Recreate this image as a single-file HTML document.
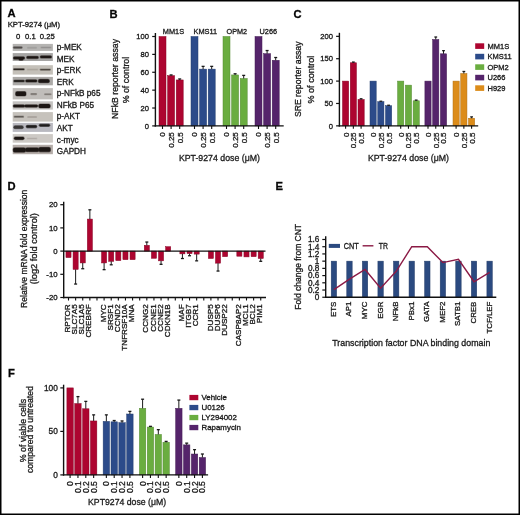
<!DOCTYPE html>
<html><head><meta charset="utf-8"><style>
html,body{margin:0;padding:0;background:#fff;}
body{width:520px;height:515px;overflow:hidden;position:relative;}
svg{position:absolute;left:0;top:0;display:block;will-change:transform;}
text{font-family:"Liberation Sans", sans-serif;stroke:#1a1a1a;stroke-width:0.32px;}
</style></head><body>
<svg width="520" height="515" viewBox="0 0 520 515">
<rect x="0" y="0" width="520" height="515" fill="#fff"/>
<text x="7.60" y="17.20" font-size="11.2" text-anchor="start" fill="#000" font-weight="bold" stroke="none" >A</text>
<text x="109.40" y="17.60" font-size="11.2" text-anchor="start" fill="#000" font-weight="bold" stroke="none" >B</text>
<text x="293.60" y="17.80" font-size="11.2" text-anchor="start" fill="#000" font-weight="bold" stroke="none" >C</text>
<text x="7.60" y="189.60" font-size="11.2" text-anchor="start" fill="#000" font-weight="bold" stroke="none" >D</text>
<text x="275.60" y="189.60" font-size="11.2" text-anchor="start" fill="#000" font-weight="bold" stroke="none" >E</text>
<text x="7.90" y="377.20" font-size="11.2" text-anchor="start" fill="#000" font-weight="bold" stroke="none" >F</text>
<text x="7.70" y="27.00" font-size="8.0" text-anchor="start" fill="#1a1a1a" textLength="52.4" lengthAdjust="spacingAndGlyphs" >KPT-9274 (μM)</text>
<text x="18.20" y="38.60" font-size="7.7" text-anchor="middle" fill="#1a1a1a" >0</text>
<text x="30.40" y="38.60" font-size="7.7" text-anchor="middle" fill="#1a1a1a" >0.1</text>
<text x="47.30" y="38.60" font-size="7.7" text-anchor="middle" fill="#1a1a1a" >0.25</text>
<rect x="12.70" y="43.90" width="40.20" height="7.00" fill="#b5b4b2" />
<rect x="12.80" y="46.25" width="10.00" height="2.70" rx="1.35" fill="#4e4a48" opacity="0.45"/>
<rect x="13.4" y="46.85" width="8.80" height="1.5" rx="0.75" fill="#4e4a48"/>
<rect x="26.90" y="46.85" width="10.20" height="1.90" rx="0.95" fill="#9a9896" opacity="0.45"/>
<rect x="27.5" y="47.45" width="9.00" height="0.7" rx="0.35" fill="#9a9896"/>
<rect x="40.40" y="46.60" width="11.20" height="2.00" rx="1.00" fill="#8e8c8a" opacity="0.45"/>
<rect x="41" y="47.20" width="10.00" height="0.8" rx="0.40" fill="#8e8c8a"/>
<text x="56.80" y="50.30" font-size="8.2" text-anchor="start" fill="#1a1a1a" >p-MEK</text>
<rect x="12.70" y="53.10" width="40.20" height="7.90" fill="#a6a5a4" />
<rect x="12.80" y="56.15" width="12.40" height="3.70" rx="1.85" fill="#1c1614" opacity="0.45"/>
<rect x="13.4" y="56.75" width="11.20" height="2.5" rx="1.25" fill="#1c1614"/>
<rect x="18.40" y="58.10" width="5.20" height="2.80" rx="1.40" fill="#1c1614" opacity="0.45"/>
<rect x="19" y="58.70" width="4.00" height="1.6" rx="0.80" fill="#1c1614"/>
<rect x="26.00" y="55.65" width="13.00" height="3.50" rx="1.75" fill="#1c1614" opacity="0.45"/>
<rect x="26.6" y="56.25" width="11.80" height="2.3" rx="1.15" fill="#1c1614"/>
<rect x="39.60" y="55.15" width="12.60" height="3.50" rx="1.75" fill="#1c1614" opacity="0.45"/>
<rect x="40.2" y="55.75" width="11.40" height="2.3" rx="1.15" fill="#1c1614"/>
<text x="56.80" y="61.60" font-size="8.2" text-anchor="start" fill="#1a1a1a" >MEK</text>
<rect x="12.70" y="65.20" width="40.20" height="9.40" fill="#c4c0b9" />
<rect x="13.00" y="68.05" width="11.80" height="2.50" rx="1.25" fill="#2a2420" opacity="0.45"/>
<rect x="13.6" y="68.65" width="10.60" height="1.3" rx="0.65" fill="#2a2420"/>
<rect x="26.60" y="68.55" width="11.80" height="2.10" rx="1.05" fill="#a8a29a" opacity="0.45"/>
<rect x="27.2" y="69.15" width="10.60" height="0.9" rx="0.45" fill="#a8a29a"/>
<rect x="39.60" y="68.40" width="11.40" height="2.40" rx="1.20" fill="#4e4842" opacity="0.45"/>
<rect x="40.2" y="69.00" width="10.20" height="1.2" rx="0.60" fill="#4e4842"/>
<text x="56.80" y="72.90" font-size="8.2" text-anchor="start" fill="#1a1a1a" >p-ERK</text>
<rect x="12.70" y="76.90" width="40.20" height="8.40" fill="#acaaa8" />
<rect x="13.20" y="79.45" width="11.80" height="3.10" rx="1.55" fill="#2a2624" opacity="0.45"/>
<rect x="13.8" y="80.05" width="10.60" height="1.9" rx="0.95" fill="#2a2624"/>
<rect x="25.00" y="79.15" width="12.60" height="3.50" rx="1.75" fill="#1c1614" opacity="0.45"/>
<rect x="25.6" y="79.75" width="11.40" height="2.3" rx="1.15" fill="#1c1614"/>
<rect x="37.80" y="78.75" width="12.20" height="4.50" rx="2.00" fill="#1c1614" opacity="0.45"/>
<rect x="38.4" y="79.35" width="11.00" height="3.3" rx="1.50" fill="#1c1614"/>
<text x="56.80" y="84.90" font-size="8.2" text-anchor="start" fill="#1a1a1a" >ERK</text>
<rect x="12.70" y="88.10" width="40.20" height="11.30" fill="#c0bdba" />
<rect x="15.00" y="91.00" width="11.60" height="5.60" rx="2.00" fill="#1c1614" opacity="0.45"/>
<rect x="15.6" y="91.60" width="10.40" height="4.4" rx="1.50" fill="#1c1614"/>
<rect x="30.20" y="93.00" width="7.00" height="2.20" rx="1.10" fill="#6e6864" opacity="0.45"/>
<rect x="30.8" y="93.60" width="5.80" height="1.0" rx="0.50" fill="#6e6864"/>
<rect x="43.90" y="93.25" width="7.90" height="2.10" rx="1.05" fill="#7a7470" opacity="0.45"/>
<rect x="44.5" y="93.85" width="6.70" height="0.9" rx="0.45" fill="#7a7470"/>
<text x="56.80" y="95.90" font-size="8.2" text-anchor="start" fill="#1a1a1a" >p-NFkB p65</text>
<rect x="12.70" y="101.30" width="40.20" height="8.30" fill="#c4c2c0" />
<rect x="12.60" y="104.15" width="12.60" height="3.70" rx="1.85" fill="#1c1614" opacity="0.45"/>
<rect x="13.2" y="104.75" width="11.40" height="2.5" rx="1.25" fill="#1c1614"/>
<rect x="24.00" y="104.25" width="14.40" height="3.50" rx="1.75" fill="#1c1614" opacity="0.45"/>
<rect x="24.6" y="104.85" width="13.20" height="2.3" rx="1.15" fill="#1c1614"/>
<rect x="38.10" y="103.45" width="12.70" height="5.10" rx="2.00" fill="#1c1614" opacity="0.45"/>
<rect x="38.7" y="104.05" width="11.50" height="3.9" rx="1.50" fill="#1c1614"/>
<text x="56.80" y="107.90" font-size="8.2" text-anchor="start" fill="#1a1a1a" >NFkB P65</text>
<rect x="12.70" y="112.10" width="40.20" height="9.50" fill="#c6c2bc" />
<rect x="13.60" y="115.45" width="10.60" height="2.50" rx="1.25" fill="#625d58" opacity="0.45"/>
<rect x="14.2" y="116.05" width="9.40" height="1.3" rx="0.65" fill="#625d58"/>
<rect x="27.00" y="115.90" width="10.20" height="2.20" rx="1.10" fill="#a29c96" opacity="0.45"/>
<rect x="27.6" y="116.50" width="9.00" height="1.0" rx="0.50" fill="#a29c96"/>
<text x="56.80" y="119.30" font-size="8.2" text-anchor="start" fill="#1a1a1a" >p-AKT</text>
<rect x="12.70" y="122.90" width="40.20" height="9.00" fill="#b9b9c0" />
<rect x="13.10" y="125.05" width="10.80" height="4.30" rx="2.00" fill="#383636" opacity="0.45"/>
<rect x="13.7" y="125.65" width="9.60" height="3.1" rx="1.50" fill="#383636"/>
<rect x="25.60" y="124.75" width="11.80" height="3.70" rx="1.85" fill="#1e1c1c" opacity="0.45"/>
<rect x="26.2" y="125.35" width="10.60" height="2.5" rx="1.25" fill="#1e1c1c"/>
<rect x="38.60" y="123.55" width="11.80" height="3.50" rx="1.75" fill="#1e1c1c" opacity="0.45"/>
<rect x="39.2" y="124.15" width="10.60" height="2.3" rx="1.15" fill="#1e1c1c"/>
<text x="56.80" y="131.00" font-size="8.2" text-anchor="start" fill="#1a1a1a" >AKT</text>
<rect x="12.70" y="134.10" width="40.20" height="8.60" fill="#cdc9c5" />
<rect x="13.60" y="136.35" width="11.10" height="3.90" rx="1.95" fill="#1c1614" opacity="0.45"/>
<rect x="14.2" y="136.95" width="9.90" height="2.7" rx="1.35" fill="#1c1614"/>
<rect x="26.60" y="137.60" width="10.80" height="2.00" rx="1.00" fill="#aea8a4" opacity="0.45"/>
<rect x="27.2" y="138.20" width="9.60" height="0.8" rx="0.40" fill="#aea8a4"/>
<text x="56.80" y="142.70" font-size="8.2" text-anchor="start" fill="#1a1a1a" >c-myc</text>
<rect x="12.70" y="144.80" width="40.20" height="9.40" fill="#b4aca8" />
<rect x="12.60" y="147.25" width="13.50" height="5.50" rx="2.00" fill="#1c1614" opacity="0.45"/>
<rect x="13.2" y="147.85" width="12.30" height="4.3" rx="1.50" fill="#1c1614"/>
<rect x="24.90" y="147.25" width="14.50" height="5.10" rx="2.00" fill="#1c1614" opacity="0.45"/>
<rect x="25.5" y="147.85" width="13.30" height="3.9" rx="1.50" fill="#1c1614"/>
<rect x="38.20" y="146.75" width="12.80" height="5.70" rx="2.00" fill="#1c1614" opacity="0.45"/>
<rect x="38.8" y="147.35" width="11.60" height="4.5" rx="1.50" fill="#1c1614"/>
<text x="56.80" y="154.00" font-size="8.2" text-anchor="start" fill="#1a1a1a" >GAPDH</text>
<rect x="159.00" y="36.50" width="7.00" height="89.40" fill="#ad0530" stroke="#8a0426" stroke-width="0.5"/>
<line x1="162.50" y1="125.90" x2="162.50" y2="129.00" stroke="#111" stroke-width="1.1"/>
<text transform="translate(165.40,132.20) rotate(-90)" font-size="8.0" text-anchor="end" fill="#1a1a1a" >0</text>
<rect x="167.60" y="75.66" width="7.00" height="50.24" fill="#ad0530" stroke="#8a0426" stroke-width="0.5"/>
<line x1="171.10" y1="75.66" x2="171.10" y2="74.94" stroke="#1a1a1a" stroke-width="1.0"/>
<line x1="169.60" y1="74.94" x2="172.60" y2="74.94" stroke="#1a1a1a" stroke-width="1.3"/>
<line x1="171.10" y1="125.90" x2="171.10" y2="129.00" stroke="#111" stroke-width="1.1"/>
<text transform="translate(174.00,132.20) rotate(-90)" font-size="8.0" text-anchor="end" fill="#1a1a1a" >0.25</text>
<rect x="176.20" y="79.95" width="7.00" height="45.95" fill="#ad0530" stroke="#8a0426" stroke-width="0.5"/>
<line x1="179.70" y1="79.95" x2="179.70" y2="78.97" stroke="#1a1a1a" stroke-width="1.0"/>
<line x1="178.20" y1="78.97" x2="181.20" y2="78.97" stroke="#1a1a1a" stroke-width="1.3"/>
<line x1="179.70" y1="125.90" x2="179.70" y2="129.00" stroke="#111" stroke-width="1.1"/>
<text transform="translate(182.60,132.20) rotate(-90)" font-size="8.0" text-anchor="end" fill="#1a1a1a" >0.5</text>
<rect x="191.00" y="36.50" width="7.00" height="89.40" fill="#2c4b8a" stroke="#233c6e" stroke-width="0.5"/>
<line x1="194.50" y1="125.90" x2="194.50" y2="129.00" stroke="#111" stroke-width="1.1"/>
<text transform="translate(197.40,132.20) rotate(-90)" font-size="8.0" text-anchor="end" fill="#1a1a1a" >0</text>
<rect x="199.60" y="69.13" width="7.00" height="56.77" fill="#2c4b8a" stroke="#233c6e" stroke-width="0.5"/>
<line x1="203.10" y1="69.13" x2="203.10" y2="66.36" stroke="#1a1a1a" stroke-width="1.0"/>
<line x1="201.60" y1="66.36" x2="204.60" y2="66.36" stroke="#1a1a1a" stroke-width="1.3"/>
<line x1="203.10" y1="125.90" x2="203.10" y2="129.00" stroke="#111" stroke-width="1.1"/>
<text transform="translate(206.00,132.20) rotate(-90)" font-size="8.0" text-anchor="end" fill="#1a1a1a" >0.25</text>
<rect x="208.20" y="69.13" width="7.00" height="56.77" fill="#2c4b8a" stroke="#233c6e" stroke-width="0.5"/>
<line x1="211.70" y1="69.13" x2="211.70" y2="66.36" stroke="#1a1a1a" stroke-width="1.0"/>
<line x1="210.20" y1="66.36" x2="213.20" y2="66.36" stroke="#1a1a1a" stroke-width="1.3"/>
<line x1="211.70" y1="125.90" x2="211.70" y2="129.00" stroke="#111" stroke-width="1.1"/>
<text transform="translate(214.60,132.20) rotate(-90)" font-size="8.0" text-anchor="end" fill="#1a1a1a" >0.5</text>
<rect x="223.00" y="36.50" width="7.00" height="89.40" fill="#6aad40" stroke="#548a33" stroke-width="0.5"/>
<line x1="226.50" y1="125.90" x2="226.50" y2="129.00" stroke="#111" stroke-width="1.1"/>
<text transform="translate(229.40,132.20) rotate(-90)" font-size="8.0" text-anchor="end" fill="#1a1a1a" >0</text>
<rect x="231.60" y="74.94" width="7.00" height="50.96" fill="#6aad40" stroke="#548a33" stroke-width="0.5"/>
<line x1="235.10" y1="74.94" x2="235.10" y2="73.78" stroke="#1a1a1a" stroke-width="1.0"/>
<line x1="233.60" y1="73.78" x2="236.60" y2="73.78" stroke="#1a1a1a" stroke-width="1.3"/>
<line x1="235.10" y1="125.90" x2="235.10" y2="129.00" stroke="#111" stroke-width="1.1"/>
<text transform="translate(238.00,132.20) rotate(-90)" font-size="8.0" text-anchor="end" fill="#1a1a1a" >0.25</text>
<rect x="240.20" y="78.52" width="7.00" height="47.38" fill="#6aad40" stroke="#548a33" stroke-width="0.5"/>
<line x1="243.70" y1="78.52" x2="243.70" y2="75.39" stroke="#1a1a1a" stroke-width="1.0"/>
<line x1="242.20" y1="75.39" x2="245.20" y2="75.39" stroke="#1a1a1a" stroke-width="1.3"/>
<line x1="243.70" y1="125.90" x2="243.70" y2="129.00" stroke="#111" stroke-width="1.1"/>
<text transform="translate(246.60,132.20) rotate(-90)" font-size="8.0" text-anchor="end" fill="#1a1a1a" >0.5</text>
<rect x="255.00" y="36.50" width="7.00" height="89.40" fill="#55246b" stroke="#441c55" stroke-width="0.5"/>
<line x1="258.50" y1="125.90" x2="258.50" y2="129.00" stroke="#111" stroke-width="1.1"/>
<text transform="translate(261.40,132.20) rotate(-90)" font-size="8.0" text-anchor="end" fill="#1a1a1a" >0</text>
<rect x="263.60" y="53.66" width="7.00" height="72.24" fill="#55246b" stroke="#441c55" stroke-width="0.5"/>
<line x1="267.10" y1="53.66" x2="267.10" y2="50.54" stroke="#1a1a1a" stroke-width="1.0"/>
<line x1="265.60" y1="50.54" x2="268.60" y2="50.54" stroke="#1a1a1a" stroke-width="1.3"/>
<line x1="267.10" y1="125.90" x2="267.10" y2="129.00" stroke="#111" stroke-width="1.1"/>
<text transform="translate(270.00,132.20) rotate(-90)" font-size="8.0" text-anchor="end" fill="#1a1a1a" >0.25</text>
<rect x="272.20" y="60.28" width="7.00" height="65.62" fill="#55246b" stroke="#441c55" stroke-width="0.5"/>
<line x1="275.70" y1="60.28" x2="275.70" y2="57.51" stroke="#1a1a1a" stroke-width="1.0"/>
<line x1="274.20" y1="57.51" x2="277.20" y2="57.51" stroke="#1a1a1a" stroke-width="1.3"/>
<line x1="275.70" y1="125.90" x2="275.70" y2="129.00" stroke="#111" stroke-width="1.1"/>
<text transform="translate(278.60,132.20) rotate(-90)" font-size="8.0" text-anchor="end" fill="#1a1a1a" >0.5</text>
<line x1="155.40" y1="33.00" x2="155.40" y2="126.60" stroke="#111" stroke-width="1.4"/>
<line x1="152.20" y1="125.90" x2="155.40" y2="125.90" stroke="#111" stroke-width="1.2"/>
<text x="149.00" y="128.60" font-size="7.6" text-anchor="end" fill="#1a1a1a" >0</text>
<line x1="152.20" y1="108.02" x2="155.40" y2="108.02" stroke="#111" stroke-width="1.2"/>
<text x="149.00" y="110.72" font-size="7.6" text-anchor="end" fill="#1a1a1a" >20</text>
<line x1="152.20" y1="90.14" x2="155.40" y2="90.14" stroke="#111" stroke-width="1.2"/>
<text x="149.00" y="92.84" font-size="7.6" text-anchor="end" fill="#1a1a1a" >40</text>
<line x1="152.20" y1="72.26" x2="155.40" y2="72.26" stroke="#111" stroke-width="1.2"/>
<text x="149.00" y="74.96" font-size="7.6" text-anchor="end" fill="#1a1a1a" >60</text>
<line x1="152.20" y1="54.38" x2="155.40" y2="54.38" stroke="#111" stroke-width="1.2"/>
<text x="149.00" y="57.08" font-size="7.6" text-anchor="end" fill="#1a1a1a" >80</text>
<line x1="152.20" y1="36.50" x2="155.40" y2="36.50" stroke="#111" stroke-width="1.2"/>
<text x="149.00" y="39.20" font-size="7.6" text-anchor="end" fill="#1a1a1a" >100</text>
<line x1="154.70" y1="125.90" x2="283.70" y2="125.90" stroke="#111" stroke-width="1.4"/>
<text x="162.80" y="33.80" font-size="8.1" text-anchor="start" fill="#1a1a1a" textLength="21.29999999999999" lengthAdjust="spacingAndGlyphs" >MM1S</text>
<text x="193.50" y="33.80" font-size="8.1" text-anchor="start" fill="#1a1a1a" textLength="23.699999999999996" lengthAdjust="spacingAndGlyphs" >KMS11</text>
<text x="226.50" y="33.80" font-size="8.1" text-anchor="start" fill="#1a1a1a" textLength="20.6" lengthAdjust="spacingAndGlyphs" >OPM2</text>
<text x="259.50" y="33.80" font-size="8.1" text-anchor="start" fill="#1a1a1a" textLength="17.6" lengthAdjust="spacingAndGlyphs" >U266</text>
<text x="178.90" y="160.60" font-size="9.8" text-anchor="start" fill="#1a1a1a" textLength="81.0" lengthAdjust="spacingAndGlyphs" >KPT-9274 dose (μM)</text>
<text transform="translate(117.80,119.00) rotate(-90)" font-size="9.8" text-anchor="start" fill="#1a1a1a" textLength="80.0" lengthAdjust="spacingAndGlyphs" >NFkB reporter assay</text>
<text transform="translate(129.40,103.30) rotate(-90)" font-size="9.8" text-anchor="start" fill="#1a1a1a" textLength="46.5" lengthAdjust="spacingAndGlyphs" >% of control</text>
<rect x="342.50" y="81.10" width="6.20" height="44.75" fill="#ad0530" stroke="#8a0426" stroke-width="0.5"/>
<line x1="345.60" y1="125.85" x2="345.60" y2="128.85" stroke="#111" stroke-width="1.1"/>
<text transform="translate(348.50,132.60) rotate(-90)" font-size="8.0" text-anchor="end" fill="#1a1a1a" >0</text>
<rect x="350.25" y="62.75" width="6.20" height="63.10" fill="#ad0530" stroke="#8a0426" stroke-width="0.5"/>
<line x1="353.35" y1="62.75" x2="353.35" y2="62.08" stroke="#1a1a1a" stroke-width="1.0"/>
<line x1="351.95" y1="62.08" x2="354.75" y2="62.08" stroke="#1a1a1a" stroke-width="1.3"/>
<line x1="353.35" y1="125.85" x2="353.35" y2="128.85" stroke="#111" stroke-width="1.1"/>
<text transform="translate(356.25,132.60) rotate(-90)" font-size="8.0" text-anchor="end" fill="#1a1a1a" >0.25</text>
<rect x="358.00" y="99.45" width="6.20" height="26.40" fill="#ad0530" stroke="#8a0426" stroke-width="0.5"/>
<line x1="361.10" y1="99.45" x2="361.10" y2="98.78" stroke="#1a1a1a" stroke-width="1.0"/>
<line x1="359.70" y1="98.78" x2="362.50" y2="98.78" stroke="#1a1a1a" stroke-width="1.3"/>
<line x1="361.10" y1="125.85" x2="361.10" y2="128.85" stroke="#111" stroke-width="1.1"/>
<text transform="translate(364.00,132.60) rotate(-90)" font-size="8.0" text-anchor="end" fill="#1a1a1a" >0.5</text>
<rect x="370.00" y="81.10" width="6.20" height="44.75" fill="#2c4b8a" stroke="#233c6e" stroke-width="0.5"/>
<line x1="373.10" y1="125.85" x2="373.10" y2="128.85" stroke="#111" stroke-width="1.1"/>
<text transform="translate(376.00,132.60) rotate(-90)" font-size="8.0" text-anchor="end" fill="#1a1a1a" >0</text>
<rect x="377.75" y="101.69" width="6.20" height="24.16" fill="#2c4b8a" stroke="#233c6e" stroke-width="0.5"/>
<line x1="380.85" y1="101.69" x2="380.85" y2="101.24" stroke="#1a1a1a" stroke-width="1.0"/>
<line x1="379.45" y1="101.24" x2="382.25" y2="101.24" stroke="#1a1a1a" stroke-width="1.3"/>
<line x1="380.85" y1="125.85" x2="380.85" y2="128.85" stroke="#111" stroke-width="1.1"/>
<text transform="translate(383.75,132.60) rotate(-90)" font-size="8.0" text-anchor="end" fill="#1a1a1a" >0.25</text>
<rect x="385.50" y="105.71" width="6.20" height="20.14" fill="#2c4b8a" stroke="#233c6e" stroke-width="0.5"/>
<line x1="388.60" y1="105.71" x2="388.60" y2="105.26" stroke="#1a1a1a" stroke-width="1.0"/>
<line x1="387.20" y1="105.26" x2="390.00" y2="105.26" stroke="#1a1a1a" stroke-width="1.3"/>
<line x1="388.60" y1="125.85" x2="388.60" y2="128.85" stroke="#111" stroke-width="1.1"/>
<text transform="translate(391.50,132.60) rotate(-90)" font-size="8.0" text-anchor="end" fill="#1a1a1a" >0.5</text>
<rect x="397.60" y="81.10" width="6.20" height="44.75" fill="#6aad40" stroke="#548a33" stroke-width="0.5"/>
<line x1="400.70" y1="125.85" x2="400.70" y2="128.85" stroke="#111" stroke-width="1.1"/>
<text transform="translate(403.60,132.60) rotate(-90)" font-size="8.0" text-anchor="end" fill="#1a1a1a" >0</text>
<rect x="405.35" y="85.13" width="6.20" height="40.72" fill="#6aad40" stroke="#548a33" stroke-width="0.5"/>
<line x1="408.45" y1="125.85" x2="408.45" y2="128.85" stroke="#111" stroke-width="1.1"/>
<text transform="translate(411.35,132.60) rotate(-90)" font-size="8.0" text-anchor="end" fill="#1a1a1a" >0.25</text>
<rect x="413.10" y="100.79" width="6.20" height="25.06" fill="#6aad40" stroke="#548a33" stroke-width="0.5"/>
<line x1="416.20" y1="100.79" x2="416.20" y2="100.12" stroke="#1a1a1a" stroke-width="1.0"/>
<line x1="414.80" y1="100.12" x2="417.60" y2="100.12" stroke="#1a1a1a" stroke-width="1.3"/>
<line x1="416.20" y1="125.85" x2="416.20" y2="128.85" stroke="#111" stroke-width="1.1"/>
<text transform="translate(419.10,132.60) rotate(-90)" font-size="8.0" text-anchor="end" fill="#1a1a1a" >0.5</text>
<rect x="424.90" y="81.10" width="6.20" height="44.75" fill="#55246b" stroke="#441c55" stroke-width="0.5"/>
<line x1="428.00" y1="125.85" x2="428.00" y2="128.85" stroke="#111" stroke-width="1.1"/>
<text transform="translate(430.90,132.60) rotate(-90)" font-size="8.0" text-anchor="end" fill="#1a1a1a" >0</text>
<rect x="432.65" y="39.48" width="6.20" height="86.37" fill="#55246b" stroke="#441c55" stroke-width="0.5"/>
<line x1="435.75" y1="39.48" x2="435.75" y2="37.02" stroke="#1a1a1a" stroke-width="1.0"/>
<line x1="434.35" y1="37.02" x2="437.15" y2="37.02" stroke="#1a1a1a" stroke-width="1.3"/>
<line x1="435.75" y1="125.85" x2="435.75" y2="128.85" stroke="#111" stroke-width="1.1"/>
<text transform="translate(438.65,132.60) rotate(-90)" font-size="8.0" text-anchor="end" fill="#1a1a1a" >0.25</text>
<rect x="440.40" y="53.80" width="6.20" height="72.05" fill="#55246b" stroke="#441c55" stroke-width="0.5"/>
<line x1="443.50" y1="53.80" x2="443.50" y2="50.67" stroke="#1a1a1a" stroke-width="1.0"/>
<line x1="442.10" y1="50.67" x2="444.90" y2="50.67" stroke="#1a1a1a" stroke-width="1.3"/>
<line x1="443.50" y1="125.85" x2="443.50" y2="128.85" stroke="#111" stroke-width="1.1"/>
<text transform="translate(446.40,132.60) rotate(-90)" font-size="8.0" text-anchor="end" fill="#1a1a1a" >0.5</text>
<rect x="453.00" y="81.10" width="6.20" height="44.75" fill="#dc8c1a" stroke="#b07014" stroke-width="0.5"/>
<line x1="456.10" y1="125.85" x2="456.10" y2="128.85" stroke="#111" stroke-width="1.1"/>
<text transform="translate(459.00,132.60) rotate(-90)" font-size="8.0" text-anchor="end" fill="#1a1a1a" >0</text>
<rect x="460.75" y="73.49" width="6.20" height="52.36" fill="#dc8c1a" stroke="#b07014" stroke-width="0.5"/>
<line x1="463.85" y1="73.49" x2="463.85" y2="71.48" stroke="#1a1a1a" stroke-width="1.0"/>
<line x1="462.45" y1="71.48" x2="465.25" y2="71.48" stroke="#1a1a1a" stroke-width="1.3"/>
<line x1="463.85" y1="125.85" x2="463.85" y2="128.85" stroke="#111" stroke-width="1.1"/>
<text transform="translate(466.75,132.60) rotate(-90)" font-size="8.0" text-anchor="end" fill="#1a1a1a" >0.25</text>
<rect x="468.50" y="118.24" width="6.20" height="7.61" fill="#dc8c1a" stroke="#b07014" stroke-width="0.5"/>
<line x1="471.60" y1="118.24" x2="471.60" y2="116.90" stroke="#1a1a1a" stroke-width="1.0"/>
<line x1="470.20" y1="116.90" x2="473.00" y2="116.90" stroke="#1a1a1a" stroke-width="1.3"/>
<line x1="471.60" y1="125.85" x2="471.60" y2="128.85" stroke="#111" stroke-width="1.1"/>
<text transform="translate(474.50,132.60) rotate(-90)" font-size="8.0" text-anchor="end" fill="#1a1a1a" >0.5</text>
<line x1="339.40" y1="32.80" x2="339.40" y2="126.55" stroke="#111" stroke-width="1.4"/>
<line x1="336.10" y1="125.85" x2="339.40" y2="125.85" stroke="#111" stroke-width="1.2"/>
<text x="333.00" y="128.55" font-size="7.6" text-anchor="end" fill="#1a1a1a" >0</text>
<line x1="336.10" y1="103.47" x2="339.40" y2="103.47" stroke="#111" stroke-width="1.2"/>
<text x="333.00" y="106.17" font-size="7.6" text-anchor="end" fill="#1a1a1a" >50</text>
<line x1="336.10" y1="81.10" x2="339.40" y2="81.10" stroke="#111" stroke-width="1.2"/>
<text x="333.00" y="83.80" font-size="7.6" text-anchor="end" fill="#1a1a1a" >100</text>
<line x1="336.10" y1="58.72" x2="339.40" y2="58.72" stroke="#111" stroke-width="1.2"/>
<text x="333.00" y="61.42" font-size="7.6" text-anchor="end" fill="#1a1a1a" >150</text>
<line x1="336.10" y1="36.35" x2="339.40" y2="36.35" stroke="#111" stroke-width="1.2"/>
<text x="333.00" y="39.05" font-size="7.6" text-anchor="end" fill="#1a1a1a" >200</text>
<line x1="338.70" y1="125.85" x2="478.20" y2="125.85" stroke="#111" stroke-width="1.4"/>
<text x="367.90" y="161.20" font-size="9.8" text-anchor="start" fill="#1a1a1a" textLength="81.0" lengthAdjust="spacingAndGlyphs" >KPT-9274 dose (μM)</text>
<text transform="translate(301.20,117.10) rotate(-90)" font-size="9.8" text-anchor="start" fill="#1a1a1a" textLength="75.6" lengthAdjust="spacingAndGlyphs" >SRE reporter assay</text>
<text transform="translate(313.60,103.50) rotate(-90)" font-size="9.8" text-anchor="start" fill="#1a1a1a" textLength="47.8" lengthAdjust="spacingAndGlyphs" >% of control</text>
<rect x="475.20" y="43.30" width="9.00" height="5.60" fill="#ad0530" />
<text transform="translate(487.50,48.70) scale(0.94,1)" font-size="8.0" text-anchor="start" fill="#1a1a1a" >MM1S</text>
<rect x="475.20" y="53.80" width="9.00" height="5.60" fill="#2c4b8a" />
<text transform="translate(487.50,59.20) scale(0.94,1)" font-size="8.0" text-anchor="start" fill="#1a1a1a" >KMS11</text>
<rect x="475.20" y="64.30" width="9.00" height="5.60" fill="#6aad40" />
<text transform="translate(487.50,69.70) scale(0.94,1)" font-size="8.0" text-anchor="start" fill="#1a1a1a" >OPM2</text>
<rect x="475.20" y="74.80" width="9.00" height="5.60" fill="#55246b" />
<text transform="translate(487.50,80.20) scale(0.94,1)" font-size="8.0" text-anchor="start" fill="#1a1a1a" >U266</text>
<rect x="475.20" y="85.30" width="9.00" height="5.60" fill="#dc8c1a" />
<text transform="translate(487.50,90.70) scale(0.94,1)" font-size="8.0" text-anchor="start" fill="#1a1a1a" >H929</text>
<line x1="68.50" y1="297.50" x2="68.50" y2="300.50" stroke="#111" stroke-width="1.1"/>
<rect x="65.95" y="251.10" width="5.10" height="6.50" fill="#ad0530" stroke="#8a0426" stroke-width="0.5"/>
<text transform="translate(70.10,304.30) rotate(-90)" font-size="8.1" text-anchor="end" fill="#1a1a1a" >RPTOR</text>
<line x1="75.62" y1="297.50" x2="75.62" y2="300.50" stroke="#111" stroke-width="1.1"/>
<rect x="73.07" y="251.10" width="5.10" height="18.33" fill="#ad0530" stroke="#8a0426" stroke-width="0.5"/>
<line x1="75.62" y1="269.43" x2="75.62" y2="284.04" stroke="#1a1a1a" stroke-width="1.0"/>
<line x1="74.12" y1="284.04" x2="77.12" y2="284.04" stroke="#1a1a1a" stroke-width="1.3"/>
<text transform="translate(77.22,304.30) rotate(-90)" font-size="8.1" text-anchor="end" fill="#1a1a1a" >SLC7A5</text>
<line x1="82.74" y1="297.50" x2="82.74" y2="300.50" stroke="#111" stroke-width="1.1"/>
<rect x="80.19" y="251.10" width="5.10" height="11.83" fill="#ad0530" stroke="#8a0426" stroke-width="0.5"/>
<line x1="82.74" y1="262.93" x2="82.74" y2="268.73" stroke="#1a1a1a" stroke-width="1.0"/>
<line x1="81.24" y1="268.73" x2="84.24" y2="268.73" stroke="#1a1a1a" stroke-width="1.3"/>
<text transform="translate(84.34,304.30) rotate(-90)" font-size="8.1" text-anchor="end" fill="#1a1a1a" >SLC1A5</text>
<line x1="89.86" y1="297.50" x2="89.86" y2="300.50" stroke="#111" stroke-width="1.1"/>
<rect x="87.31" y="219.08" width="5.10" height="32.02" fill="#ad0530" stroke="#8a0426" stroke-width="0.5"/>
<line x1="89.86" y1="219.08" x2="89.86" y2="209.80" stroke="#1a1a1a" stroke-width="1.0"/>
<line x1="88.36" y1="209.80" x2="91.36" y2="209.80" stroke="#1a1a1a" stroke-width="1.3"/>
<text transform="translate(91.46,304.30) rotate(-90)" font-size="8.1" text-anchor="end" fill="#1a1a1a" >CREBRF</text>
<line x1="96.98" y1="297.50" x2="96.98" y2="300.50" stroke="#111" stroke-width="1.1"/>
<line x1="104.10" y1="297.50" x2="104.10" y2="300.50" stroke="#111" stroke-width="1.1"/>
<rect x="101.55" y="251.10" width="5.10" height="11.83" fill="#ad0530" stroke="#8a0426" stroke-width="0.5"/>
<line x1="104.10" y1="262.93" x2="104.10" y2="269.66" stroke="#1a1a1a" stroke-width="1.0"/>
<line x1="102.60" y1="269.66" x2="105.60" y2="269.66" stroke="#1a1a1a" stroke-width="1.3"/>
<text transform="translate(105.70,304.30) rotate(-90)" font-size="8.1" text-anchor="end" fill="#1a1a1a" >MYC</text>
<line x1="111.22" y1="297.50" x2="111.22" y2="300.50" stroke="#111" stroke-width="1.1"/>
<rect x="108.67" y="251.10" width="5.10" height="10.21" fill="#ad0530" stroke="#8a0426" stroke-width="0.5"/>
<line x1="111.22" y1="261.31" x2="111.22" y2="264.79" stroke="#1a1a1a" stroke-width="1.0"/>
<line x1="109.72" y1="264.79" x2="112.72" y2="264.79" stroke="#1a1a1a" stroke-width="1.3"/>
<text transform="translate(112.82,304.30) rotate(-90)" font-size="8.1" text-anchor="end" fill="#1a1a1a" >SRSF1</text>
<line x1="118.34" y1="297.50" x2="118.34" y2="300.50" stroke="#111" stroke-width="1.1"/>
<rect x="115.79" y="251.10" width="5.10" height="9.51" fill="#ad0530" stroke="#8a0426" stroke-width="0.5"/>
<text transform="translate(119.94,304.30) rotate(-90)" font-size="8.1" text-anchor="end" fill="#1a1a1a" >CCND2</text>
<line x1="125.46" y1="297.50" x2="125.46" y2="300.50" stroke="#111" stroke-width="1.1"/>
<rect x="122.91" y="251.10" width="5.10" height="8.58" fill="#ad0530" stroke="#8a0426" stroke-width="0.5"/>
<text transform="translate(127.06,304.30) rotate(-90)" font-size="8.1" text-anchor="end" fill="#1a1a1a" >TNFRSF10A</text>
<line x1="132.58" y1="297.50" x2="132.58" y2="300.50" stroke="#111" stroke-width="1.1"/>
<rect x="130.03" y="251.10" width="5.10" height="8.58" fill="#ad0530" stroke="#8a0426" stroke-width="0.5"/>
<text transform="translate(134.18,304.30) rotate(-90)" font-size="8.1" text-anchor="end" fill="#1a1a1a" >MNA</text>
<line x1="139.70" y1="297.50" x2="139.70" y2="300.50" stroke="#111" stroke-width="1.1"/>
<line x1="146.82" y1="297.50" x2="146.82" y2="300.50" stroke="#111" stroke-width="1.1"/>
<rect x="144.27" y="245.30" width="5.10" height="5.80" fill="#ad0530" stroke="#8a0426" stroke-width="0.5"/>
<line x1="146.82" y1="245.30" x2="146.82" y2="242.05" stroke="#1a1a1a" stroke-width="1.0"/>
<line x1="145.32" y1="242.05" x2="148.32" y2="242.05" stroke="#1a1a1a" stroke-width="1.3"/>
<text transform="translate(148.42,304.30) rotate(-90)" font-size="8.1" text-anchor="end" fill="#1a1a1a" >CCNG2</text>
<line x1="153.94" y1="297.50" x2="153.94" y2="300.50" stroke="#111" stroke-width="1.1"/>
<rect x="151.39" y="251.10" width="5.10" height="7.19" fill="#ad0530" stroke="#8a0426" stroke-width="0.5"/>
<text transform="translate(155.54,304.30) rotate(-90)" font-size="8.1" text-anchor="end" fill="#1a1a1a" >CCNE1</text>
<line x1="161.06" y1="297.50" x2="161.06" y2="300.50" stroke="#111" stroke-width="1.1"/>
<rect x="158.51" y="251.10" width="5.10" height="9.74" fill="#ad0530" stroke="#8a0426" stroke-width="0.5"/>
<line x1="161.06" y1="260.84" x2="161.06" y2="264.32" stroke="#1a1a1a" stroke-width="1.0"/>
<line x1="159.56" y1="264.32" x2="162.56" y2="264.32" stroke="#1a1a1a" stroke-width="1.3"/>
<text transform="translate(162.66,304.30) rotate(-90)" font-size="8.1" text-anchor="end" fill="#1a1a1a" >CCNE2</text>
<line x1="168.18" y1="297.50" x2="168.18" y2="300.50" stroke="#111" stroke-width="1.1"/>
<rect x="165.63" y="246.69" width="5.10" height="4.41" fill="#ad0530" stroke="#8a0426" stroke-width="0.5"/>
<text transform="translate(169.78,304.30) rotate(-90)" font-size="8.1" text-anchor="end" fill="#1a1a1a" >CDKN1B</text>
<line x1="175.30" y1="297.50" x2="175.30" y2="300.50" stroke="#111" stroke-width="1.1"/>
<line x1="182.42" y1="297.50" x2="182.42" y2="300.50" stroke="#111" stroke-width="1.1"/>
<rect x="179.87" y="251.10" width="5.10" height="2.78" fill="#ad0530" stroke="#8a0426" stroke-width="0.5"/>
<line x1="182.42" y1="253.88" x2="182.42" y2="258.52" stroke="#1a1a1a" stroke-width="1.0"/>
<line x1="180.92" y1="258.52" x2="183.92" y2="258.52" stroke="#1a1a1a" stroke-width="1.3"/>
<text transform="translate(184.02,304.30) rotate(-90)" font-size="8.1" text-anchor="end" fill="#1a1a1a" >MAF</text>
<line x1="189.54" y1="297.50" x2="189.54" y2="300.50" stroke="#111" stroke-width="1.1"/>
<rect x="186.99" y="251.10" width="5.10" height="2.55" fill="#ad0530" stroke="#8a0426" stroke-width="0.5"/>
<line x1="189.54" y1="253.65" x2="189.54" y2="255.74" stroke="#1a1a1a" stroke-width="1.0"/>
<line x1="188.04" y1="255.74" x2="191.04" y2="255.74" stroke="#1a1a1a" stroke-width="1.3"/>
<text transform="translate(191.14,304.30) rotate(-90)" font-size="8.1" text-anchor="end" fill="#1a1a1a" >ITGB7</text>
<line x1="196.66" y1="297.50" x2="196.66" y2="300.50" stroke="#111" stroke-width="1.1"/>
<rect x="194.11" y="251.10" width="5.10" height="3.02" fill="#ad0530" stroke="#8a0426" stroke-width="0.5"/>
<line x1="196.66" y1="254.12" x2="196.66" y2="260.84" stroke="#1a1a1a" stroke-width="1.0"/>
<line x1="195.16" y1="260.84" x2="198.16" y2="260.84" stroke="#1a1a1a" stroke-width="1.3"/>
<text transform="translate(198.26,304.30) rotate(-90)" font-size="8.1" text-anchor="end" fill="#1a1a1a" >CCR1</text>
<line x1="203.78" y1="297.50" x2="203.78" y2="300.50" stroke="#111" stroke-width="1.1"/>
<line x1="210.90" y1="297.50" x2="210.90" y2="300.50" stroke="#111" stroke-width="1.1"/>
<rect x="208.35" y="251.10" width="5.10" height="7.42" fill="#ad0530" stroke="#8a0426" stroke-width="0.5"/>
<text transform="translate(212.50,304.30) rotate(-90)" font-size="8.1" text-anchor="end" fill="#1a1a1a" >DUSP5</text>
<line x1="218.02" y1="297.50" x2="218.02" y2="300.50" stroke="#111" stroke-width="1.1"/>
<rect x="215.47" y="251.10" width="5.10" height="12.06" fill="#ad0530" stroke="#8a0426" stroke-width="0.5"/>
<line x1="218.02" y1="263.16" x2="218.02" y2="271.05" stroke="#1a1a1a" stroke-width="1.0"/>
<line x1="216.52" y1="271.05" x2="219.52" y2="271.05" stroke="#1a1a1a" stroke-width="1.3"/>
<text transform="translate(219.62,304.30) rotate(-90)" font-size="8.1" text-anchor="end" fill="#1a1a1a" >DUSP6</text>
<line x1="225.14" y1="297.50" x2="225.14" y2="300.50" stroke="#111" stroke-width="1.1"/>
<rect x="222.59" y="251.10" width="5.10" height="5.57" fill="#ad0530" stroke="#8a0426" stroke-width="0.5"/>
<text transform="translate(226.74,304.30) rotate(-90)" font-size="8.1" text-anchor="end" fill="#1a1a1a" >DUSP22</text>
<line x1="232.26" y1="297.50" x2="232.26" y2="300.50" stroke="#111" stroke-width="1.1"/>
<line x1="239.38" y1="297.50" x2="239.38" y2="300.50" stroke="#111" stroke-width="1.1"/>
<rect x="236.83" y="251.10" width="5.10" height="5.10" fill="#ad0530" stroke="#8a0426" stroke-width="0.5"/>
<text transform="translate(240.98,304.30) rotate(-90)" font-size="8.1" text-anchor="end" fill="#1a1a1a" >CASP8AP2</text>
<line x1="246.50" y1="297.50" x2="246.50" y2="300.50" stroke="#111" stroke-width="1.1"/>
<rect x="243.95" y="251.10" width="5.10" height="5.80" fill="#ad0530" stroke="#8a0426" stroke-width="0.5"/>
<text transform="translate(248.10,304.30) rotate(-90)" font-size="8.1" text-anchor="end" fill="#1a1a1a" >MCL1</text>
<line x1="253.62" y1="297.50" x2="253.62" y2="300.50" stroke="#111" stroke-width="1.1"/>
<rect x="251.07" y="251.10" width="5.10" height="5.57" fill="#ad0530" stroke="#8a0426" stroke-width="0.5"/>
<text transform="translate(255.22,304.30) rotate(-90)" font-size="8.1" text-anchor="end" fill="#1a1a1a" >BCL2</text>
<line x1="260.74" y1="297.50" x2="260.74" y2="300.50" stroke="#111" stroke-width="1.1"/>
<rect x="258.19" y="251.10" width="5.10" height="7.42" fill="#ad0530" stroke="#8a0426" stroke-width="0.5"/>
<line x1="260.74" y1="258.52" x2="260.74" y2="261.31" stroke="#1a1a1a" stroke-width="1.0"/>
<line x1="259.24" y1="261.31" x2="262.24" y2="261.31" stroke="#1a1a1a" stroke-width="1.3"/>
<text transform="translate(262.34,304.30) rotate(-90)" font-size="8.1" text-anchor="end" fill="#1a1a1a" >PIM1</text>
<line x1="63.70" y1="201.80" x2="63.70" y2="298.20" stroke="#111" stroke-width="1.4"/>
<line x1="60.30" y1="297.50" x2="63.70" y2="297.50" stroke="#111" stroke-width="1.2"/>
<text x="57.60" y="300.20" font-size="7.8" text-anchor="end" fill="#1a1a1a" >-20</text>
<line x1="60.30" y1="274.30" x2="63.70" y2="274.30" stroke="#111" stroke-width="1.2"/>
<text x="57.60" y="277.00" font-size="7.8" text-anchor="end" fill="#1a1a1a" >-10</text>
<line x1="60.30" y1="251.10" x2="63.70" y2="251.10" stroke="#111" stroke-width="1.2"/>
<text x="57.60" y="253.80" font-size="7.8" text-anchor="end" fill="#1a1a1a" >0</text>
<line x1="60.30" y1="227.90" x2="63.70" y2="227.90" stroke="#111" stroke-width="1.2"/>
<text x="57.60" y="230.60" font-size="7.8" text-anchor="end" fill="#1a1a1a" >10</text>
<line x1="60.30" y1="204.70" x2="63.70" y2="204.70" stroke="#111" stroke-width="1.2"/>
<text x="57.60" y="207.40" font-size="7.8" text-anchor="end" fill="#1a1a1a" >20</text>
<line x1="63.00" y1="297.50" x2="266.00" y2="297.50" stroke="#111" stroke-width="1.4"/>
<line x1="63.70" y1="251.10" x2="265.50" y2="251.10" stroke="#111" stroke-width="1.3"/>
<text transform="translate(27.40,308.00) rotate(-90)" font-size="9.8" text-anchor="start" fill="#1a1a1a" textLength="118.4" lengthAdjust="spacingAndGlyphs" >Relative mRNA fold expression</text>
<text transform="translate(37.10,284.30) rotate(-90)" font-size="9.8" text-anchor="start" fill="#1a1a1a" textLength="71.2" lengthAdjust="spacingAndGlyphs" >(log2 fold control)</text>
<rect x="331.20" y="261.15" width="5.40" height="36.10" fill="#2b4a80" stroke="#223b66" stroke-width="0.5"/>
<text transform="translate(335.80,301.60) rotate(-90)" font-size="7.9" text-anchor="end" fill="#1a1a1a" >ETS</text>
<rect x="346.77" y="261.15" width="5.40" height="36.10" fill="#2b4a80" stroke="#223b66" stroke-width="0.5"/>
<text transform="translate(351.37,301.60) rotate(-90)" font-size="7.9" text-anchor="end" fill="#1a1a1a" >AP1</text>
<rect x="362.34" y="261.15" width="5.40" height="36.10" fill="#2b4a80" stroke="#223b66" stroke-width="0.5"/>
<text transform="translate(366.94,301.60) rotate(-90)" font-size="7.9" text-anchor="end" fill="#1a1a1a" >MYC</text>
<rect x="377.91" y="261.15" width="5.40" height="36.10" fill="#2b4a80" stroke="#223b66" stroke-width="0.5"/>
<text transform="translate(382.51,301.60) rotate(-90)" font-size="7.9" text-anchor="end" fill="#1a1a1a" >EGR</text>
<rect x="393.48" y="261.15" width="5.40" height="36.10" fill="#2b4a80" stroke="#223b66" stroke-width="0.5"/>
<text transform="translate(398.08,301.60) rotate(-90)" font-size="7.9" text-anchor="end" fill="#1a1a1a" >NFkB</text>
<rect x="409.05" y="261.15" width="5.40" height="36.10" fill="#2b4a80" stroke="#223b66" stroke-width="0.5"/>
<text transform="translate(413.65,301.60) rotate(-90)" font-size="7.9" text-anchor="end" fill="#1a1a1a" >PBx1</text>
<rect x="424.62" y="261.15" width="5.40" height="36.10" fill="#2b4a80" stroke="#223b66" stroke-width="0.5"/>
<text transform="translate(429.22,301.60) rotate(-90)" font-size="7.9" text-anchor="end" fill="#1a1a1a" >GATA</text>
<rect x="440.19" y="261.15" width="5.40" height="36.10" fill="#2b4a80" stroke="#223b66" stroke-width="0.5"/>
<text transform="translate(444.79,301.60) rotate(-90)" font-size="7.9" text-anchor="end" fill="#1a1a1a" >MEF2</text>
<rect x="455.76" y="261.15" width="5.40" height="36.10" fill="#2b4a80" stroke="#223b66" stroke-width="0.5"/>
<text transform="translate(460.36,301.60) rotate(-90)" font-size="7.9" text-anchor="end" fill="#1a1a1a" >SATB1</text>
<rect x="471.33" y="261.15" width="5.40" height="36.10" fill="#2b4a80" stroke="#223b66" stroke-width="0.5"/>
<text transform="translate(475.93,301.60) rotate(-90)" font-size="7.9" text-anchor="end" fill="#1a1a1a" >CREB</text>
<rect x="486.90" y="261.15" width="5.40" height="36.10" fill="#2b4a80" stroke="#223b66" stroke-width="0.5"/>
<text transform="translate(491.50,301.60) rotate(-90)" font-size="7.9" text-anchor="end" fill="#1a1a1a" >TCF/LEF</text>
<polyline points="333.90,289.67 349.47,279.20 365.04,269.45 380.61,288.23 396.18,271.26 411.75,246.71 427.32,246.71 442.89,262.59 458.46,259.35 474.03,281.73 489.60,272.34" fill="none" stroke="#8b1a45" stroke-width="1.4" stroke-linejoin="miter"/>
<line x1="325.70" y1="236.30" x2="325.70" y2="297.95" stroke="#111" stroke-width="1.4"/>
<line x1="322.30" y1="297.25" x2="325.70" y2="297.25" stroke="#111" stroke-width="1.2"/>
<text x="319.30" y="300.15" font-size="8.2" text-anchor="end" fill="#1a1a1a" >0</text>
<line x1="322.30" y1="290.03" x2="325.70" y2="290.03" stroke="#111" stroke-width="1.2"/>
<text x="319.30" y="292.93" font-size="8.2" text-anchor="end" fill="#1a1a1a" >0.2</text>
<line x1="322.30" y1="282.81" x2="325.70" y2="282.81" stroke="#111" stroke-width="1.2"/>
<text x="319.30" y="285.71" font-size="8.2" text-anchor="end" fill="#1a1a1a" >0.4</text>
<line x1="322.30" y1="275.59" x2="325.70" y2="275.59" stroke="#111" stroke-width="1.2"/>
<text x="319.30" y="278.49" font-size="8.2" text-anchor="end" fill="#1a1a1a" >0.6</text>
<line x1="322.30" y1="268.37" x2="325.70" y2="268.37" stroke="#111" stroke-width="1.2"/>
<text x="319.30" y="271.27" font-size="8.2" text-anchor="end" fill="#1a1a1a" >0.8</text>
<line x1="322.30" y1="261.15" x2="325.70" y2="261.15" stroke="#111" stroke-width="1.2"/>
<text x="319.30" y="264.05" font-size="8.2" text-anchor="end" fill="#1a1a1a" >1</text>
<line x1="322.30" y1="253.93" x2="325.70" y2="253.93" stroke="#111" stroke-width="1.2"/>
<text x="319.30" y="256.83" font-size="8.2" text-anchor="end" fill="#1a1a1a" >1.2</text>
<line x1="322.30" y1="246.71" x2="325.70" y2="246.71" stroke="#111" stroke-width="1.2"/>
<text x="319.30" y="249.61" font-size="8.2" text-anchor="end" fill="#1a1a1a" >1.4</text>
<line x1="322.30" y1="239.49" x2="325.70" y2="239.49" stroke="#111" stroke-width="1.2"/>
<text x="319.30" y="242.39" font-size="8.2" text-anchor="end" fill="#1a1a1a" >1.6</text>
<line x1="325.00" y1="297.25" x2="496.30" y2="297.25" stroke="#111" stroke-width="1.4"/>
<rect x="328.80" y="243.90" width="11.20" height="4.00" fill="#2b4a80" />
<text x="343.80" y="248.50" font-size="8.4" text-anchor="start" fill="#1a1a1a" textLength="14.9" lengthAdjust="spacingAndGlyphs" >CNT</text>
<line x1="362.60" y1="245.80" x2="373.40" y2="245.80" stroke="#8b1a45" stroke-width="1.4"/>
<text x="378.70" y="248.50" font-size="8.4" text-anchor="start" fill="#1a1a1a" textLength="9.2" lengthAdjust="spacingAndGlyphs" >TR</text>
<text transform="translate(301.00,309.80) rotate(-90)" font-size="9.8" text-anchor="start" fill="#1a1a1a" textLength="85.8" lengthAdjust="spacingAndGlyphs" >Fold change from CNT</text>
<text x="332.30" y="345.80" font-size="9.8" text-anchor="start" fill="#1a1a1a" textLength="158.0" lengthAdjust="spacingAndGlyphs" >Transcription factor DNA binding domain</text>
<rect x="66.90" y="387.90" width="6.40" height="87.00" fill="#ad0530" stroke="#8a0426" stroke-width="0.5"/>
<line x1="70.10" y1="474.90" x2="70.10" y2="477.90" stroke="#111" stroke-width="1.1"/>
<text transform="translate(73.10,481.20) rotate(-90)" font-size="8.5" text-anchor="end" fill="#1a1a1a" >0</text>
<rect x="74.75" y="403.56" width="6.40" height="71.34" fill="#ad0530" stroke="#8a0426" stroke-width="0.5"/>
<line x1="77.95" y1="403.56" x2="77.95" y2="396.60" stroke="#1a1a1a" stroke-width="1.0"/>
<line x1="76.45" y1="396.60" x2="79.45" y2="396.60" stroke="#1a1a1a" stroke-width="1.3"/>
<line x1="77.95" y1="474.90" x2="77.95" y2="477.90" stroke="#111" stroke-width="1.1"/>
<text transform="translate(80.95,481.20) rotate(-90)" font-size="8.5" text-anchor="end" fill="#1a1a1a" >0.1</text>
<rect x="82.60" y="408.78" width="6.40" height="66.12" fill="#ad0530" stroke="#8a0426" stroke-width="0.5"/>
<line x1="85.80" y1="408.78" x2="85.80" y2="401.38" stroke="#1a1a1a" stroke-width="1.0"/>
<line x1="84.30" y1="401.38" x2="87.30" y2="401.38" stroke="#1a1a1a" stroke-width="1.3"/>
<line x1="85.80" y1="474.90" x2="85.80" y2="477.90" stroke="#111" stroke-width="1.1"/>
<text transform="translate(88.80,481.20) rotate(-90)" font-size="8.5" text-anchor="end" fill="#1a1a1a" >0.2</text>
<rect x="90.45" y="420.96" width="6.40" height="53.94" fill="#ad0530" stroke="#8a0426" stroke-width="0.5"/>
<line x1="93.65" y1="420.96" x2="93.65" y2="414.87" stroke="#1a1a1a" stroke-width="1.0"/>
<line x1="92.15" y1="414.87" x2="95.15" y2="414.87" stroke="#1a1a1a" stroke-width="1.3"/>
<line x1="93.65" y1="474.90" x2="93.65" y2="477.90" stroke="#111" stroke-width="1.1"/>
<text transform="translate(96.65,481.20) rotate(-90)" font-size="8.5" text-anchor="end" fill="#1a1a1a" >0.5</text>
<rect x="103.15" y="421.39" width="6.40" height="53.50" fill="#2c4b8a" stroke="#233c6e" stroke-width="0.5"/>
<line x1="106.35" y1="421.39" x2="106.35" y2="414.87" stroke="#1a1a1a" stroke-width="1.0"/>
<line x1="104.85" y1="414.87" x2="107.85" y2="414.87" stroke="#1a1a1a" stroke-width="1.3"/>
<line x1="106.35" y1="474.90" x2="106.35" y2="477.90" stroke="#111" stroke-width="1.1"/>
<text transform="translate(109.35,481.20) rotate(-90)" font-size="8.5" text-anchor="end" fill="#1a1a1a" >0</text>
<rect x="111.00" y="421.83" width="6.40" height="53.07" fill="#2c4b8a" stroke="#233c6e" stroke-width="0.5"/>
<line x1="114.20" y1="421.83" x2="114.20" y2="420.52" stroke="#1a1a1a" stroke-width="1.0"/>
<line x1="112.70" y1="420.52" x2="115.70" y2="420.52" stroke="#1a1a1a" stroke-width="1.3"/>
<line x1="114.20" y1="474.90" x2="114.20" y2="477.90" stroke="#111" stroke-width="1.1"/>
<text transform="translate(117.20,481.20) rotate(-90)" font-size="8.5" text-anchor="end" fill="#1a1a1a" >0.1</text>
<rect x="118.85" y="422.70" width="6.40" height="52.20" fill="#2c4b8a" stroke="#233c6e" stroke-width="0.5"/>
<line x1="122.05" y1="422.70" x2="122.05" y2="420.96" stroke="#1a1a1a" stroke-width="1.0"/>
<line x1="120.55" y1="420.96" x2="123.55" y2="420.96" stroke="#1a1a1a" stroke-width="1.3"/>
<line x1="122.05" y1="474.90" x2="122.05" y2="477.90" stroke="#111" stroke-width="1.1"/>
<text transform="translate(125.05,481.20) rotate(-90)" font-size="8.5" text-anchor="end" fill="#1a1a1a" >0.2</text>
<rect x="126.70" y="414.00" width="6.40" height="60.90" fill="#2c4b8a" stroke="#233c6e" stroke-width="0.5"/>
<line x1="129.90" y1="414.00" x2="129.90" y2="411.39" stroke="#1a1a1a" stroke-width="1.0"/>
<line x1="128.40" y1="411.39" x2="131.40" y2="411.39" stroke="#1a1a1a" stroke-width="1.3"/>
<line x1="129.90" y1="474.90" x2="129.90" y2="477.90" stroke="#111" stroke-width="1.1"/>
<text transform="translate(132.90,481.20) rotate(-90)" font-size="8.5" text-anchor="end" fill="#1a1a1a" >0.5</text>
<rect x="139.40" y="408.34" width="6.40" height="66.56" fill="#6aad40" stroke="#548a33" stroke-width="0.5"/>
<line x1="142.60" y1="408.34" x2="142.60" y2="399.21" stroke="#1a1a1a" stroke-width="1.0"/>
<line x1="141.10" y1="399.21" x2="144.10" y2="399.21" stroke="#1a1a1a" stroke-width="1.3"/>
<line x1="142.60" y1="474.90" x2="142.60" y2="477.90" stroke="#111" stroke-width="1.1"/>
<text transform="translate(145.60,481.20) rotate(-90)" font-size="8.5" text-anchor="end" fill="#1a1a1a" >0</text>
<rect x="147.25" y="427.05" width="6.40" height="47.85" fill="#6aad40" stroke="#548a33" stroke-width="0.5"/>
<line x1="150.45" y1="427.05" x2="150.45" y2="426.35" stroke="#1a1a1a" stroke-width="1.0"/>
<line x1="148.95" y1="426.35" x2="151.95" y2="426.35" stroke="#1a1a1a" stroke-width="1.3"/>
<line x1="150.45" y1="474.90" x2="150.45" y2="477.90" stroke="#111" stroke-width="1.1"/>
<text transform="translate(153.45,481.20) rotate(-90)" font-size="8.5" text-anchor="end" fill="#1a1a1a" >0.1</text>
<rect x="155.10" y="434.44" width="6.40" height="40.45" fill="#6aad40" stroke="#548a33" stroke-width="0.5"/>
<line x1="158.30" y1="434.44" x2="158.30" y2="429.66" stroke="#1a1a1a" stroke-width="1.0"/>
<line x1="156.80" y1="429.66" x2="159.80" y2="429.66" stroke="#1a1a1a" stroke-width="1.3"/>
<line x1="158.30" y1="474.90" x2="158.30" y2="477.90" stroke="#111" stroke-width="1.1"/>
<text transform="translate(161.30,481.20) rotate(-90)" font-size="8.5" text-anchor="end" fill="#1a1a1a" >0.2</text>
<rect x="162.95" y="442.27" width="6.40" height="32.62" fill="#6aad40" stroke="#548a33" stroke-width="0.5"/>
<line x1="166.15" y1="442.27" x2="166.15" y2="441.40" stroke="#1a1a1a" stroke-width="1.0"/>
<line x1="164.65" y1="441.40" x2="167.65" y2="441.40" stroke="#1a1a1a" stroke-width="1.3"/>
<line x1="166.15" y1="474.90" x2="166.15" y2="477.90" stroke="#111" stroke-width="1.1"/>
<text transform="translate(169.15,481.20) rotate(-90)" font-size="8.5" text-anchor="end" fill="#1a1a1a" >0.5</text>
<rect x="175.65" y="408.34" width="6.40" height="66.56" fill="#55246b" stroke="#441c55" stroke-width="0.5"/>
<line x1="178.85" y1="408.34" x2="178.85" y2="400.08" stroke="#1a1a1a" stroke-width="1.0"/>
<line x1="177.35" y1="400.08" x2="180.35" y2="400.08" stroke="#1a1a1a" stroke-width="1.3"/>
<line x1="178.85" y1="474.90" x2="178.85" y2="477.90" stroke="#111" stroke-width="1.1"/>
<text transform="translate(181.85,481.20) rotate(-90)" font-size="8.5" text-anchor="end" fill="#1a1a1a" >0</text>
<rect x="183.50" y="444.88" width="6.40" height="30.01" fill="#55246b" stroke="#441c55" stroke-width="0.5"/>
<line x1="186.70" y1="444.88" x2="186.70" y2="443.14" stroke="#1a1a1a" stroke-width="1.0"/>
<line x1="185.20" y1="443.14" x2="188.20" y2="443.14" stroke="#1a1a1a" stroke-width="1.3"/>
<line x1="186.70" y1="474.90" x2="186.70" y2="477.90" stroke="#111" stroke-width="1.1"/>
<text transform="translate(189.70,481.20) rotate(-90)" font-size="8.5" text-anchor="end" fill="#1a1a1a" >0.1</text>
<rect x="191.35" y="454.02" width="6.40" height="20.88" fill="#55246b" stroke="#441c55" stroke-width="0.5"/>
<line x1="194.55" y1="454.02" x2="194.55" y2="449.67" stroke="#1a1a1a" stroke-width="1.0"/>
<line x1="193.05" y1="449.67" x2="196.05" y2="449.67" stroke="#1a1a1a" stroke-width="1.3"/>
<line x1="194.55" y1="474.90" x2="194.55" y2="477.90" stroke="#111" stroke-width="1.1"/>
<text transform="translate(197.55,481.20) rotate(-90)" font-size="8.5" text-anchor="end" fill="#1a1a1a" >0.2</text>
<rect x="199.20" y="457.50" width="6.40" height="17.40" fill="#55246b" stroke="#441c55" stroke-width="0.5"/>
<line x1="202.40" y1="457.50" x2="202.40" y2="454.02" stroke="#1a1a1a" stroke-width="1.0"/>
<line x1="200.90" y1="454.02" x2="203.90" y2="454.02" stroke="#1a1a1a" stroke-width="1.3"/>
<line x1="202.40" y1="474.90" x2="202.40" y2="477.90" stroke="#111" stroke-width="1.1"/>
<text transform="translate(205.40,481.20) rotate(-90)" font-size="8.5" text-anchor="end" fill="#1a1a1a" >0.5</text>
<line x1="63.60" y1="384.70" x2="63.60" y2="475.60" stroke="#111" stroke-width="1.4"/>
<line x1="60.30" y1="474.90" x2="63.60" y2="474.90" stroke="#111" stroke-width="1.2"/>
<text x="57.80" y="477.80" font-size="8.3" text-anchor="end" fill="#1a1a1a" >0</text>
<line x1="60.30" y1="431.40" x2="63.60" y2="431.40" stroke="#111" stroke-width="1.2"/>
<text x="57.80" y="434.30" font-size="8.3" text-anchor="end" fill="#1a1a1a" >50</text>
<line x1="60.30" y1="387.90" x2="63.60" y2="387.90" stroke="#111" stroke-width="1.2"/>
<text x="57.80" y="390.80" font-size="8.3" text-anchor="end" fill="#1a1a1a" >100</text>
<line x1="62.90" y1="474.90" x2="208.10" y2="474.90" stroke="#111" stroke-width="1.4"/>
<rect x="189.40" y="394.90" width="8.90" height="5.30" fill="#ad0530" />
<text x="201.50" y="399.90" font-size="7.9" text-anchor="start" fill="#1a1a1a" >Vehicle</text>
<rect x="189.40" y="404.90" width="8.90" height="5.30" fill="#2c4b8a" />
<text x="201.50" y="409.90" font-size="7.9" text-anchor="start" fill="#1a1a1a" >U0126</text>
<rect x="189.40" y="414.90" width="8.90" height="5.30" fill="#6aad40" />
<text x="201.50" y="419.90" font-size="7.9" text-anchor="start" fill="#1a1a1a" >LY294002</text>
<rect x="189.40" y="424.90" width="8.90" height="5.30" fill="#55246b" />
<text x="201.50" y="429.90" font-size="7.9" text-anchor="start" fill="#1a1a1a" >Rapamycin</text>
<text x="88.00" y="504.60" font-size="9.8" text-anchor="start" fill="#1a1a1a" textLength="78.2" lengthAdjust="spacingAndGlyphs" >KPT9274 dose (μM)</text>
<text transform="translate(25.60,462.20) rotate(-90)" font-size="9.8" text-anchor="start" fill="#1a1a1a" textLength="63.4" lengthAdjust="spacingAndGlyphs" >% of viable cells</text>
<text transform="translate(33.00,473.00) rotate(-90)" font-size="9.8" text-anchor="start" fill="#1a1a1a" textLength="86.8" lengthAdjust="spacingAndGlyphs" >compared to untreated</text>
<rect x="0" y="0" width="520" height="515" fill="none" stroke="#000" stroke-width="3"/>
</svg>
</body></html>
